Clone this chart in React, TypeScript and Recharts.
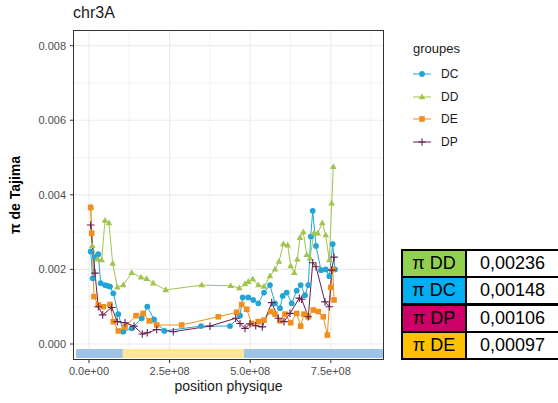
import {
  CartesianGrid,
  ComposedChart,
  Label,
  Line,
  ReferenceArea,
  XAxis,
  YAxis,
} from "recharts";

// positions in Mb, pi values
const dcPos = [5.3, 11.5, 18.6, 28.8, 36.3, 49.6, 58.0, 65.1, 75.4, 90.9, 106.4, 132.4, 163.5, 180.8, 201.6, 233.6, 347.4, 437.3, 468.4, 476.7, 494.1, 509.6, 525.1, 542.8, 561.4, 576.9, 592.4, 600.8, 613.2, 628.7, 644.2, 656.6, 670.0, 680.2, 687.7, 693.9, 704.1, 719.6, 734.2, 745.3, 755.9, 763.0];
const dcPi = [0.00248, 0.00176, 0.00233, 0.00241, 0.00163, 0.00158, 0.00156, 0.00154, 0.00136, 0.0008, 0.00033, 0.00042, 0.00069, 0.001, 0.00066, 0.00035, 0.00048, 0.00048, 0.00076, 0.00125, 0.00125, 0.00118, 0.00109, 0.00138, 0.00158, 0.00109, 0.00096, 0.00129, 0.00138, 0.00109, 0.00143, 0.00158, 0.00131, 0.00158, 0.00288, 0.00357, 0.00263, 0.00198, 0.002, 0.00182, 0.00268, 0.002];

const ddPos = [5.3, 10.2, 25.7, 39.4, 49.6, 62.0, 73.5, 87.8, 106.4, 132.4, 161.3, 178.9, 199.4, 237.9, 349.6, 439.5, 466.2, 483.9, 494.1, 507.8, 525.1, 542.8, 561.4, 576.9, 589.3, 602.7, 616.3, 625.6, 636.8, 646.1, 654.5, 664.7, 675.3, 685.5, 697.9, 709.4, 723.6, 734.2, 745.3, 752.8, 757.7];
const ddPi = [0.00368, 0.00263, 0.00227, 0.00225, 0.00331, 0.00324, 0.00216, 0.00152, 0.00158, 0.00191, 0.00179, 0.00175, 0.00163, 0.00145, 0.00158, 0.00156, 0.0015, 0.00161, 0.00167, 0.00174, 0.00158, 0.00154, 0.00182, 0.002, 0.00221, 0.00268, 0.00265, 0.00209, 0.00191, 0.00227, 0.00285, 0.003, 0.00239, 0.0023, 0.00297, 0.00297, 0.00324, 0.00292, 0.00225, 0.00377, 0.00475];

const dePos = [5.3, 8.4, 15.5, 28.8, 44.4, 65.1, 75.4, 90.9, 111.7, 145.8, 168.4, 187.0, 210.0, 287.5, 401.1, 458.1, 473.6, 489.1, 504.7, 525.1, 542.8, 563.6, 576.9, 592.4, 607.9, 625.6, 644.2, 656.6, 666.9, 680.2, 695.7, 711.2, 726.7, 739.1, 749.7, 755.9, 760.0];
const dePi = [0.00366, 0.00297, 0.00127, 0.00105, 0.001, 0.00106, 0.0006, 0.00035, 0.00046, 0.00076, 0.00082, 0.00062, 0.00051, 0.00051, 0.00073, 0.00085, 0.00106, 0.00093, 0.00055, 0.0006, 0.00064, 0.00087, 0.0008, 0.00062, 0.0008, 0.00057, 0.00082, 0.00048, 0.0008, 0.00073, 0.00091, 0.00087, 0.00073, 0.00024, 0.00152, 0.002, 0.00118];

const dpPos = [5.3, 18.6, 28.8, 42.5, 70.4, 87.8, 111.7, 139.6, 165.3, 180.8, 210.0, 261.5, 375.3, 455.0, 468.4, 483.9, 499.4, 517.1, 537.5, 566.7, 587.2, 604.8, 623.4, 652.3, 659.7, 680.2, 693.9, 704.1, 732.0, 745.3, 752.8, 760.0];
const dpPi = [0.00319, 0.0019, 0.001, 0.00078, 0.00098, 0.0006, 0.00057, 0.00048, 0.00027, 0.0003, 0.00039, 0.00033, 0.00048, 0.00069, 0.00055, 0.00042, 0.00054, 0.00049, 0.00046, 0.00111, 0.00069, 0.0006, 0.00082, 0.00123, 0.0012, 0.00073, 0.00218, 0.00207, 0.00113, 0.001, 0.00198, 0.00233];

const groups = ["DC", "DD", "DE", "DP"];
const xTicks = [0, 250, 500, 750];
const yTicks = [0, 0.002, 0.004, 0.006, 0.008];

// chromosome band under the curves (Mb)
const bandStarts = [-40, 105, 481];
const bandEnds = [105, 481, 915];
const bandKinds = ["distal", "centre", "distal"];

const tableLabels = ["π DD", "π DC", "π DP", "π DE"];
const tableValues = ["0,00236", "0,00148", "0,00106", "0,00097"];

const colors: Record<string, string> = {
  DC: "#22a5d5",
  DD: "#9fc54c",
  DE: "#f28e1c",
  DP: "#66204f",
};
const tableColors: Record<string, string> = {
  "π DD": "#92d050",
  "π DC": "#00b0f0",
  "π DP": "#cc0066",
  "π DE": "#ffc000",
};
const bandColors: Record<string, string> = { distal: "#9dc3e6", centre: "#ffe699" };

const toRows = (pos: number[], pi: number[]) => pos.map((p, i) => ({ pos: p, pi: pi[i] }));
const series: Record<string, { pos: number; pi: number }[]> = {
  DC: toRows(dcPos, dcPi),
  DD: toRows(ddPos, ddPi),
  DE: toRows(dePos, dePi),
  DP: toRows(dpPos, dpPi),
};

const X_MIN = -49.6;
const X_MAX = 915;
const Y_MIN = -0.000429;
const Y_MAX = 0.00842;

function fmtSci(v: number) {
  if (v === 0) return "0.0e+00";
  const bp = v * 1e6;
  const e = Math.floor(Math.log10(bp));
  return (bp / 10 ** e).toFixed(1) + "e+" + String(e).padStart(2, "0");
}

function Marker({ group, cx, cy }: { group: string; cx: number; cy: number }) {
  const c = colors[group];
  if (group === "DC") return <circle cx={cx} cy={cy} r={2.9} fill={c} />;
  if (group === "DD")
    return <polygon points={`${cx},${cy - 3.6} ${cx - 3.3},${cy + 2.2} ${cx + 3.3},${cy + 2.2}`} fill={c} />;
  if (group === "DE") return <rect x={cx - 2.8} y={cy - 2.8} width={5.6} height={5.6} fill={c} />;
  return (
    <path d={`M${cx - 3.8},${cy}H${cx + 3.8}M${cx},${cy - 3.8}V${cy + 3.8}`} stroke={c} strokeWidth={1.1} />
  );
}

function makeDot(group: string) {
  return (props: any) => {
    const { cx, cy, index } = props;
    if (cx == null || cy == null) return <g key={index} />;
    return (
      <g key={`${group}-${index}`}>
        <Marker group={group} cx={cx} cy={cy} />
      </g>
    );
  };
}

export default function App() {
  const font = "'Liberation Sans', Arial, sans-serif";
  return (
    <div style={{ position: "absolute", left: 0, top: 0, width: 558, height: 403, background: "#fff", overflow: "hidden", fontFamily: font }}>
      <div style={{ position: "absolute", left: 73, top: 4, fontSize: 16, color: "#1a1a1a" }}>chr3A</div>
      <ComposedChart
        width={400}
        height={403}
        margin={{ top: 30, right: 16, bottom: 3, left: 0 }}
        style={{ position: "absolute", left: 0, top: 0, fontFamily: font }}
      >
        <CartesianGrid
          stroke="#ebebeb"
          strokeWidth={0.6}
          verticalValues={[125, 375, 625, 875]}
          horizontalValues={[0.001, 0.003, 0.005, 0.007]}
        />
        <CartesianGrid
          stroke="#ebebeb"
          strokeWidth={1.1}
          verticalValues={xTicks}
          horizontalValues={yTicks}
        />
        <XAxis
          dataKey="pos"
          type="number"
          domain={[X_MIN, X_MAX]}
          ticks={xTicks}
          allowDataOverflow
          height={40}
          axisLine={false}
          tickSize={3}
          tickMargin={4}
          tickLine={{ stroke: "#333" }}
          tick={{ fill: "#4d4d4d", fontSize: 11 }}
          tickFormatter={fmtSci}
        >
          <Label value="position physique" position="insideBottom" offset={9} style={{ fill: "#1a1a1a", fontSize: 14 }} />
        </XAxis>
        <YAxis
          dataKey="pi"
          type="number"
          domain={[Y_MIN, Y_MAX]}
          ticks={yTicks}
          allowDataOverflow
          width={73}
          axisLine={false}
          tickSize={3}
          tickMargin={4}
          tickLine={{ stroke: "#333" }}
          tick={{ fill: "#4d4d4d", fontSize: 11 }}
          tickFormatter={(v: number) => v.toFixed(3)}
        >
          <Label
            value="π de Tajima"
            angle={-90}
            position="insideLeft"
            offset={15}
            style={{ textAnchor: "middle", fill: "#000", fontSize: 14, fontWeight: "bold" }}
          />
        </YAxis>
        {bandStarts.map((s, i) => (
          <ReferenceArea
            key={i}
            x1={s}
            x2={bandEnds[i]}
            y1={-0.000375}
            y2={-0.000134}
            fill={bandColors[bandKinds[i]]}
            fillOpacity={1}
            stroke="none"
          />
        ))}
        {groups.map((g) => (
          <Line
            key={g}
            data={series[g]}
            dataKey="pi"
            type="linear"
            stroke={colors[g]}
            strokeWidth={1}
            dot={makeDot(g)}
            activeDot={false}
            isAnimationActive={false}
          />
        ))}
      </ComposedChart>
      <div
        style={{
          position: "absolute",
          left: 73,
          top: 30,
          width: 311,
          height: 330,
          border: "1px solid #333",
          boxSizing: "border-box",
          pointerEvents: "none",
        }}
      />
      <div style={{ position: "absolute", left: 413, top: 41, fontSize: 13, color: "#1a1a1a" }}>groupes</div>
      {groups.map((g, i) => (
        <div key={g} style={{ position: "absolute", left: 411, top: 66 + i * 22.5, height: 16, display: "flex", alignItems: "center" }}>
          <svg width={22} height={16}>
            <line x1={2} x2={20} y1={8} y2={8} stroke={colors[g]} strokeWidth={1} />
            <Marker group={g} cx={11} cy={8} />
          </svg>
          <span style={{ marginLeft: 8, fontSize: 12, color: "#1a1a1a" }}>{g}</span>
        </div>
      ))}
      {tableLabels.map((lab, i) => (
        <div key={lab}>
          <div
            style={{
              position: "absolute",
              left: 401,
              top: 249 + i * 27.3,
              width: 66,
              height: 29,
              boxSizing: "border-box",
              border: "2.5px solid #000",
              background: tableColors[lab],
              fontSize: 18,
              color: "#000",
              display: "flex",
              alignItems: "center",
              justifyContent: "center",
            }}
          >
            {lab}
          </div>
          <div
            style={{
              position: "absolute",
              left: 465,
              top: 249 + i * 27.3,
              width: 100,
              height: 29,
              boxSizing: "border-box",
              border: "2.5px solid #000",
              background: "#fff",
              fontSize: 18,
              color: "#000",
              display: "flex",
              alignItems: "center",
              paddingLeft: 13,
            }}
          >
            {tableValues[i]}
          </div>
        </div>
      ))}
    </div>
  );
}
